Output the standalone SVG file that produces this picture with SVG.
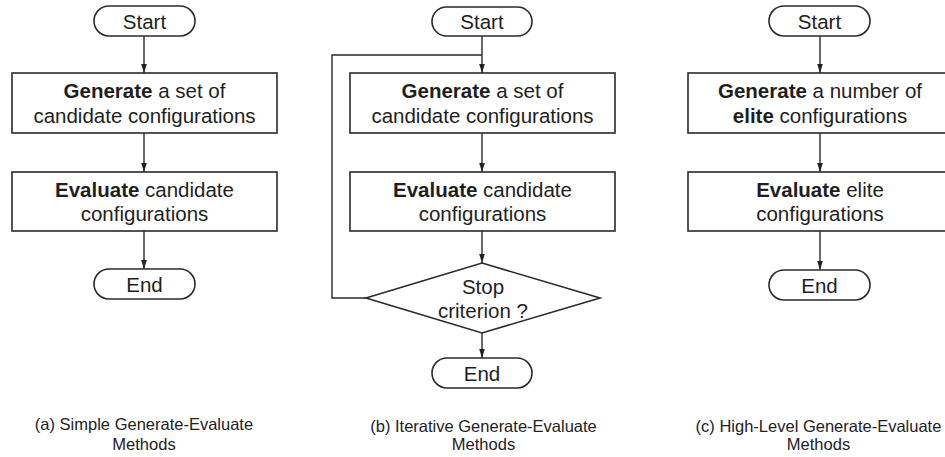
<svg xmlns="http://www.w3.org/2000/svg" width="945" height="457" viewBox="0 0 945 457">
<defs>
<marker id="ah" markerUnits="userSpaceOnUse" markerWidth="10" markerHeight="7" refX="9" refY="3.5" orient="auto">
<path d="M0,0.7 L9,3.5 L0,6.3 z" fill="#222"/>
</marker>
<style>
.shape{fill:#fff;stroke:#2a2a2a;stroke-width:1.6}
.conn{fill:none;stroke:#2a2a2a;stroke-width:1.4}
.t{font-family:"Liberation Sans",Arial,sans-serif;font-size:20.5px;fill:#1e1e1e;text-anchor:middle}
.b{font-weight:bold}
.cap{font-family:"Liberation Sans",Arial,sans-serif;font-size:16.5px;fill:#222;text-anchor:middle}
</style>
</defs>
<rect width="945" height="457" fill="#fff"/>
<g id="connectors">
<line class="conn" x1="144" y1="36" x2="144" y2="73" marker-end="url(#ah)"/>
<line class="conn" x1="144" y1="133" x2="144" y2="172" marker-end="url(#ah)"/>
<line class="conn" x1="144" y1="231" x2="144" y2="269" marker-end="url(#ah)"/>
<line class="conn" x1="482" y1="36" x2="482" y2="73" marker-end="url(#ah)"/>
<line class="conn" x1="482" y1="133" x2="482" y2="172" marker-end="url(#ah)"/>
<line class="conn" x1="482" y1="231" x2="482" y2="263" marker-end="url(#ah)"/>
<line class="conn" x1="482" y1="333" x2="482" y2="358" marker-end="url(#ah)"/>
<polyline class="conn" points="366,298 332,298 332,55 482,55"/>
<line class="conn" x1="820" y1="36" x2="820" y2="73" marker-end="url(#ah)"/>
<line class="conn" x1="820" y1="133" x2="820" y2="172" marker-end="url(#ah)"/>
<line class="conn" x1="820" y1="231" x2="820" y2="270" marker-end="url(#ah)"/>
</g>
<g id="a-start"><rect class="shape" x="94" y="6" width="101" height="30" rx="15"/><text class="t" x="144.5" y="28.5">Start</text></g>
<g id="a-generate"><rect class="shape" x="12" y="73" width="265" height="60"/><text class="t" x="144.5" y="98"><tspan class="b">Generate</tspan> a set of</text><text class="t" x="144.5" y="123">candidate configurations</text></g>
<g id="a-evaluate"><rect class="shape" x="12" y="172" width="265" height="59"/><text class="t" x="144.5" y="197"><tspan class="b">Evaluate</tspan> candidate</text><text class="t" x="144.5" y="221">configurations</text></g>
<g id="a-end"><rect class="shape" x="94" y="269" width="101" height="30" rx="15"/><text class="t" x="144.5" y="291.5">End</text></g>
<g id="a-caption"><text class="cap" x="144" y="430">(a) Simple Generate-Evaluate</text><text class="cap" x="144" y="450">Methods</text></g>

<g id="b-start"><rect class="shape" x="432" y="7" width="100" height="29" rx="14.5"/><text class="t" x="482" y="29">Start</text></g>
<g id="b-generate"><rect class="shape" x="350" y="73" width="265" height="60"/><text class="t" x="482.5" y="98"><tspan class="b">Generate</tspan> a set of</text><text class="t" x="482.5" y="123">candidate configurations</text></g>
<g id="b-evaluate"><rect class="shape" x="350" y="172" width="265" height="59"/><text class="t" x="482.5" y="197"><tspan class="b">Evaluate</tspan> candidate</text><text class="t" x="482.5" y="221">configurations</text></g>
<g id="b-stop"><polygon class="shape" points="482,263 600,298 482,333 366,298"/><text class="t" x="483" y="294">Stop</text><text class="t" x="483" y="318">criterion ?</text></g>
<g id="b-end"><rect class="shape" x="432" y="358" width="100" height="30" rx="15"/><text class="t" x="482" y="380.5">End</text></g>
<g id="b-caption"><text class="cap" x="483.5" y="432">(b) Iterative Generate-Evaluate</text><text class="cap" x="483.5" y="450">Methods</text></g>

<g id="c-start"><rect class="shape" x="769" y="6" width="101" height="30" rx="15"/><text class="t" x="819.5" y="28.5">Start</text></g>
<g id="c-generate"><rect class="shape" x="688" y="73" width="265" height="60"/><text class="t" x="820" y="98"><tspan class="b">Generate</tspan> a number of</text><text class="t" x="820" y="123"><tspan class="b">elite</tspan> configurations</text></g>
<g id="c-evaluate"><rect class="shape" x="688" y="172" width="265" height="59"/><text class="t" x="820" y="197"><tspan class="b">Evaluate</tspan> elite</text><text class="t" x="820" y="221">configurations</text></g>
<g id="c-end"><rect class="shape" x="769" y="270" width="101" height="30" rx="15"/><text class="t" x="819.5" y="292.5">End</text></g>
<g id="c-caption"><text class="cap" x="818.5" y="432">(c) High-Level Generate-Evaluate</text><text class="cap" x="818.5" y="450">Methods</text></g>
</svg>
